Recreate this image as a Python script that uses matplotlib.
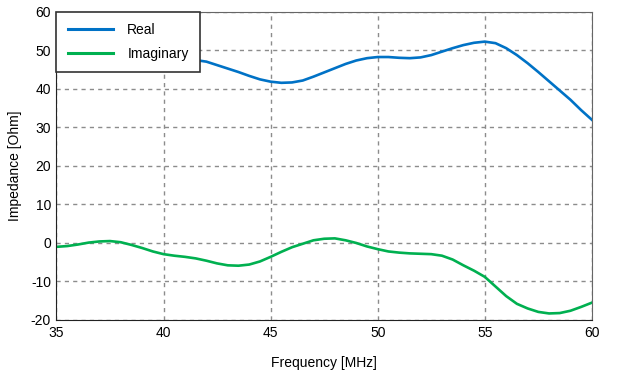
import matplotlib
matplotlib.use('Agg')
import matplotlib.pyplot as plt

# ── Data ───────────────────────────────────────────────────
freq = [35.0, 35.5, 36.0, 36.5, 37.0, 37.5, 38.0, 38.5, 39.0, 39.5,
        40.0, 40.5, 41.0, 41.5, 42.0, 42.5, 43.0, 43.5, 44.0, 44.5,
        45.0, 45.5, 46.0, 46.5, 47.0, 47.5, 48.0, 48.5, 49.0, 49.5,
        50.0, 50.5, 51.0, 51.5, 52.0, 52.5, 53.0, 53.5, 54.0, 54.5,
        55.0, 55.5, 56.0, 56.5, 57.0, 57.5, 58.0, 58.5, 59.0, 59.5, 60.0]
real = [45.3, 45.2, 45.2, 45.4, 45.8, 46.3, 46.8, 47.2, 47.5, 47.7,
        47.8, 47.9, 47.8, 47.5, 47.1, 46.2, 45.3, 44.4, 43.4, 42.5,
        41.9, 41.6, 41.7, 42.2, 43.2, 44.3, 45.4, 46.5, 47.4, 48.0,
        48.3, 48.3, 48.1, 48.0, 48.2, 48.8, 49.7, 50.6, 51.4, 52.0,
        52.3, 51.9, 50.6, 48.8, 46.7, 44.4, 42.0, 39.6, 37.2, 34.5, 32.0]
imag = [-1.0, -0.8, -0.4, 0.1, 0.4, 0.5, 0.2, -0.5, -1.3, -2.2,
        -2.9, -3.3, -3.6, -4.0, -4.6, -5.3, -5.8, -5.9, -5.6, -4.8,
        -3.6, -2.3, -1.1, -0.2, 0.7, 1.1, 1.2, 0.7, 0.0, -0.9,
        -1.6, -2.2, -2.5, -2.7, -2.8, -2.9, -3.3, -4.3, -5.8, -7.2,
        -8.8, -11.3, -13.8, -15.8, -17.0, -17.9, -18.3, -18.2, -17.6, -16.6, -15.5]
xticks = [35, 40, 45, 50, 55, 60]
yticks = [-20, -10, 0, 10, 20, 30, 40, 50, 60]

plt.rcParams['font.family'] = ['Liberation Sans', 'DejaVu Sans']
plt.rcParams['axes.unicode_minus'] = False

fig = plt.figure(figsize=(6.24, 3.72), dpi=100)
ax = fig.add_axes([0.0905, 0.1398, 0.858, 0.828])

ax.plot(freq, real, color='#0072C6', lw=1.9, label='Real')
ax.plot(freq, imag, color='#00B050', lw=1.9, label='Imaginary')

ax.set_xlim(35, 60)
ax.set_ylim(-20, 60)
ax.set_xticks(xticks)
ax.set_yticks(yticks)
ax.tick_params(length=0, labelsize=10, pad=4, colors='black')
ax.grid(True, linestyle=(0, (3, 3)), color='#8c8c8c', lw=1)

for side in ['left', 'bottom']:
    ax.spines[side].set_color('#222222')
for side in ['top', 'right']:
    ax.spines[side].set_color('#666666')

ax.set_xlabel('Frequency [MHz]', fontsize=10, labelpad=12)
ax.set_ylabel('Impedance [Ohm]', fontsize=10, labelpad=6)

leg = ax.legend(loc='upper left', bbox_to_anchor=(0, 1), borderaxespad=0,
                fancybox=False, framealpha=1, edgecolor='#333333',
                fontsize=10, handlelength=3.3, handletextpad=1.0,
                borderpad=0.8, labelspacing=0.7)
leg.get_frame().set_linewidth(1.2)
for line in leg.get_lines():
    line.set_linewidth(2.2)

fig.savefig('out.png', dpi=100)
